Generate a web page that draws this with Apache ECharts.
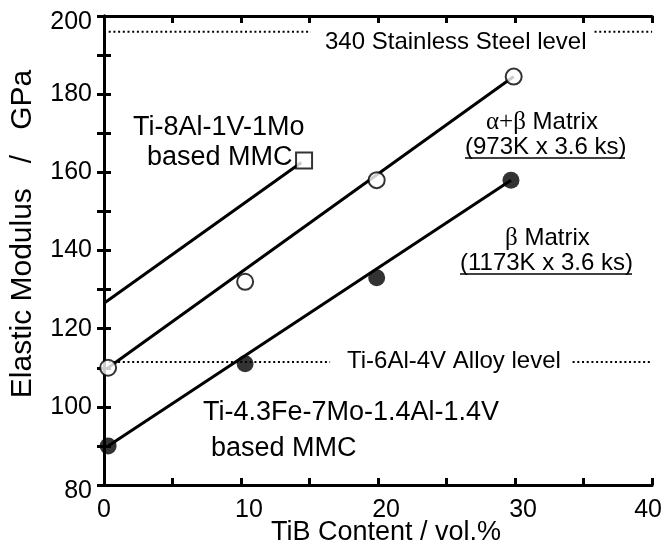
<!DOCTYPE html>
<html>
<head>
<meta charset="utf-8">
<script src="https://cdn.jsdelivr.net/npm/echarts@6/dist/echarts.min.js"></script>
<style>
html, body { margin: 0; padding: 0; background: #fff; }
#chart { width: 665px; height: 556px; }
</style>
</head>
<body>
<div id="chart"></div>
<script>
// 数据
var tibOpen = [0.3, 10.3, 19.9, 29.9];
var alphaBeta = [110, 132, 158, 184.5];
var tibFilled = [0.3, 10.3, 19.9, 29.7];
var betaOnly = [90, 111, 133, 158];
var tibSquare = [14.6];
var ti811 = [163];
// 回归线端点
var fitAlphaBeta = [[0.3, 110], [29.9, 184.5]];
var fitBeta = [[0.3, 90], [29.7, 158]];
var fit811 = [[0, 126.5], [14.4, 162.5]];
// 参考水平线
var steelLevel = 196;
var ti64Level = 111.5;
var xTicks = [0, 10, 20, 30, 40];
var yTicks = [80, 100, 120, 140, 160, 180, 200];

function pairs(xs, ys) {
    return xs.map(function (x, i) { return [x, ys[i]]; });
}

var chart = echarts.init(document.getElementById('chart'));
var font = 'Liberation Sans, Arial, sans-serif';

var dotted = { color: '#000', width: 2, type: [2, 2.7] };
function levelLine(y, x1, x2, x3) {
    return {
        type: 'line',
        data: [[0, y], [x1, y], [x2, '-'], [x3, y], [40, y]],
        symbol: 'none',
        silent: true,
        lineStyle: dotted,
        z: 1
    };
}

var option = {
    animation: false,
    backgroundColor: '#fff',
    grid: { left: 103, right: 12, top: 16, bottom: 71 },
    xAxis: [{
        type: 'value', min: 0, max: 40, interval: 5,
        name: 'TiB Content / vol.%',
        nameLocation: 'middle', nameGap: 34, nameMoveOverlap: false,
        nameTextStyle: { fontFamily: font, fontSize: 27, color: '#000', padding: [0, 0, 0, 16] },
        axisLine: { lineStyle: { color: '#000', width: 3 } },
        axisTick: { inside: true, length: 7, lineStyle: { color: '#000', width: 3 } },
        splitLine: { show: false },
        axisLabel: {
            fontFamily: font, fontSize: 25, color: '#000', margin: 13,
            formatter: function (v) {
                if (xTicks.indexOf(v) < 0) return '';
                if (v === 0) return String(v);
                if (v === 40) return '{l|' + v + '}';
                return '{r|' + v + '}';
            },
            rich: {
                r: { fontFamily: font, fontSize: 25, padding: [0, 0, 0, 16] },
                l: { fontFamily: font, fontSize: 25, padding: [0, 8, 8, 0] }
            }
        }
    }, {
        type: 'value', min: 0, max: 40, interval: 5, position: 'top',
        axisLine: { lineStyle: { color: '#000', width: 3 } },
        axisTick: { inside: true, length: 7, lineStyle: { color: '#000', width: 3 } },
        axisLabel: { show: false },
        splitLine: { show: false }
    }],
    yAxis: [{
        type: 'value', min: 80, max: 200, interval: 10,
        name: 'Elastic Modulus   /   GPa',
        nameLocation: 'middle', nameGap: 66, nameMoveOverlap: false,
        nameTextStyle: { fontFamily: font, fontSize: 30, color: '#000', padding: [0, 0, 0, 33] },
        axisLine: { lineStyle: { color: '#000', width: 3 } },
        axisTick: { inside: true, length: 7, lineStyle: { color: '#000', width: 3 } },
        splitLine: { show: false },
        axisLabel: {
            fontFamily: font, fontSize: 25, color: '#000', margin: 12,
            formatter: function (v) {
                if (yTicks.indexOf(v) < 0) return '';
                if (v === 80 || v === 200) return '{d|' + v + '}';
                return String(v);
            },
            rich: {
                d: { fontFamily: font, fontSize: 25, padding: [12, 0, 0, 0] }
            }
        }
    }, {
        type: 'value', min: 80, max: 200, interval: 10, position: 'right',
        axisLine: { lineStyle: { color: '#000', width: 3 } },
        axisTick: { inside: true, length: 7, lineStyle: { color: '#000', width: 3 } },
        axisLabel: { show: false },
        splitLine: { show: false }
    }],
    series: [
        levelLine(steelLevel, 15.1, 25, 35.8),
        levelLine(ti64Level, 16.5, 25, 34.2),
        { type: 'line', data: fit811, symbol: 'none', lineStyle: { color: '#000', width: 3 }, z: 2 },
        { type: 'line', data: fitAlphaBeta, symbol: 'none', lineStyle: { color: '#000', width: 3 }, z: 2 },
        { type: 'line', data: fitBeta, symbol: 'none', lineStyle: { color: '#000', width: 3 }, z: 2 },
        {
            type: 'scatter', data: pairs(tibSquare, ti811), symbol: 'rect', symbolSize: 16,
            itemStyle: { color: '#fff', borderColor: '#000', borderWidth: 2 }, z: 3
        },
        {
            type: 'scatter', data: pairs(tibOpen, alphaBeta), symbol: 'circle', symbolSize: 16,
            itemStyle: { color: '#fff', borderColor: '#000', borderWidth: 2 }, z: 3
        },
        {
            type: 'scatter', data: pairs(tibFilled, betaOnly), symbol: 'circle', symbolSize: 17,
            itemStyle: { color: '#000' }, z: 3
        }
    ],
    graphic: [
        { type: 'text', left: 133, top: 114, style: { text: 'Ti-8Al-1V-1Mo', font: '27px ' + font, fill: '#000' } },
        { type: 'text', left: 147, top: 144, style: { text: 'based MMC', font: '27px ' + font, fill: '#000' } },
        { type: 'text', left: 486, top: 110, style: { text: '{g|α+β} Matrix', font: '24px ' + font, fill: '#000',
            rich: { g: { fontFamily: 'Liberation Serif, serif', fontSize: 25 } } } },
        { type: 'text', left: 465, top: 135, style: { text: '(973K x 3.6 ks)', font: '24px ' + font, fill: '#000' } },
        { type: 'line', shape: { x1: 465, y1: 158, x2: 625, y2: 158 }, style: { stroke: '#000', lineWidth: 1.5 } },
        { type: 'text', left: 505, top: 226, style: { text: '{g|β} Matrix', font: '24px ' + font, fill: '#000',
            rich: { g: { fontFamily: 'Liberation Serif, serif', fontSize: 25 } } } },
        { type: 'text', left: 460, top: 251, style: { text: '(1173K x 3.6 ks)', font: '24px ' + font, fill: '#000' } },
        { type: 'line', shape: { x1: 460, y1: 274, x2: 632, y2: 274 }, style: { stroke: '#000', lineWidth: 1.5 } },
        { type: 'text', left: 203, top: 399, style: { text: 'Ti-4.3Fe-7Mo-1.4Al-1.4V', font: '27px ' + font, fill: '#000' } },
        { type: 'text', left: 211, top: 435, style: { text: 'based MMC', font: '27px ' + font, fill: '#000' } },
        { type: 'text', left: 325, top: 30, style: { text: '340 Stainless Steel level', font: '24px ' + font, fill: '#000' } },
        { type: 'text', left: 347, top: 349, style: { text: 'Ti-6Al-4V Alloy level', font: '24px ' + font, fill: '#000' } }
    ]
};

chart.setOption(option);
window.addEventListener('resize', function () {
    chart.resize();
});
</script>
</body>
</html>
